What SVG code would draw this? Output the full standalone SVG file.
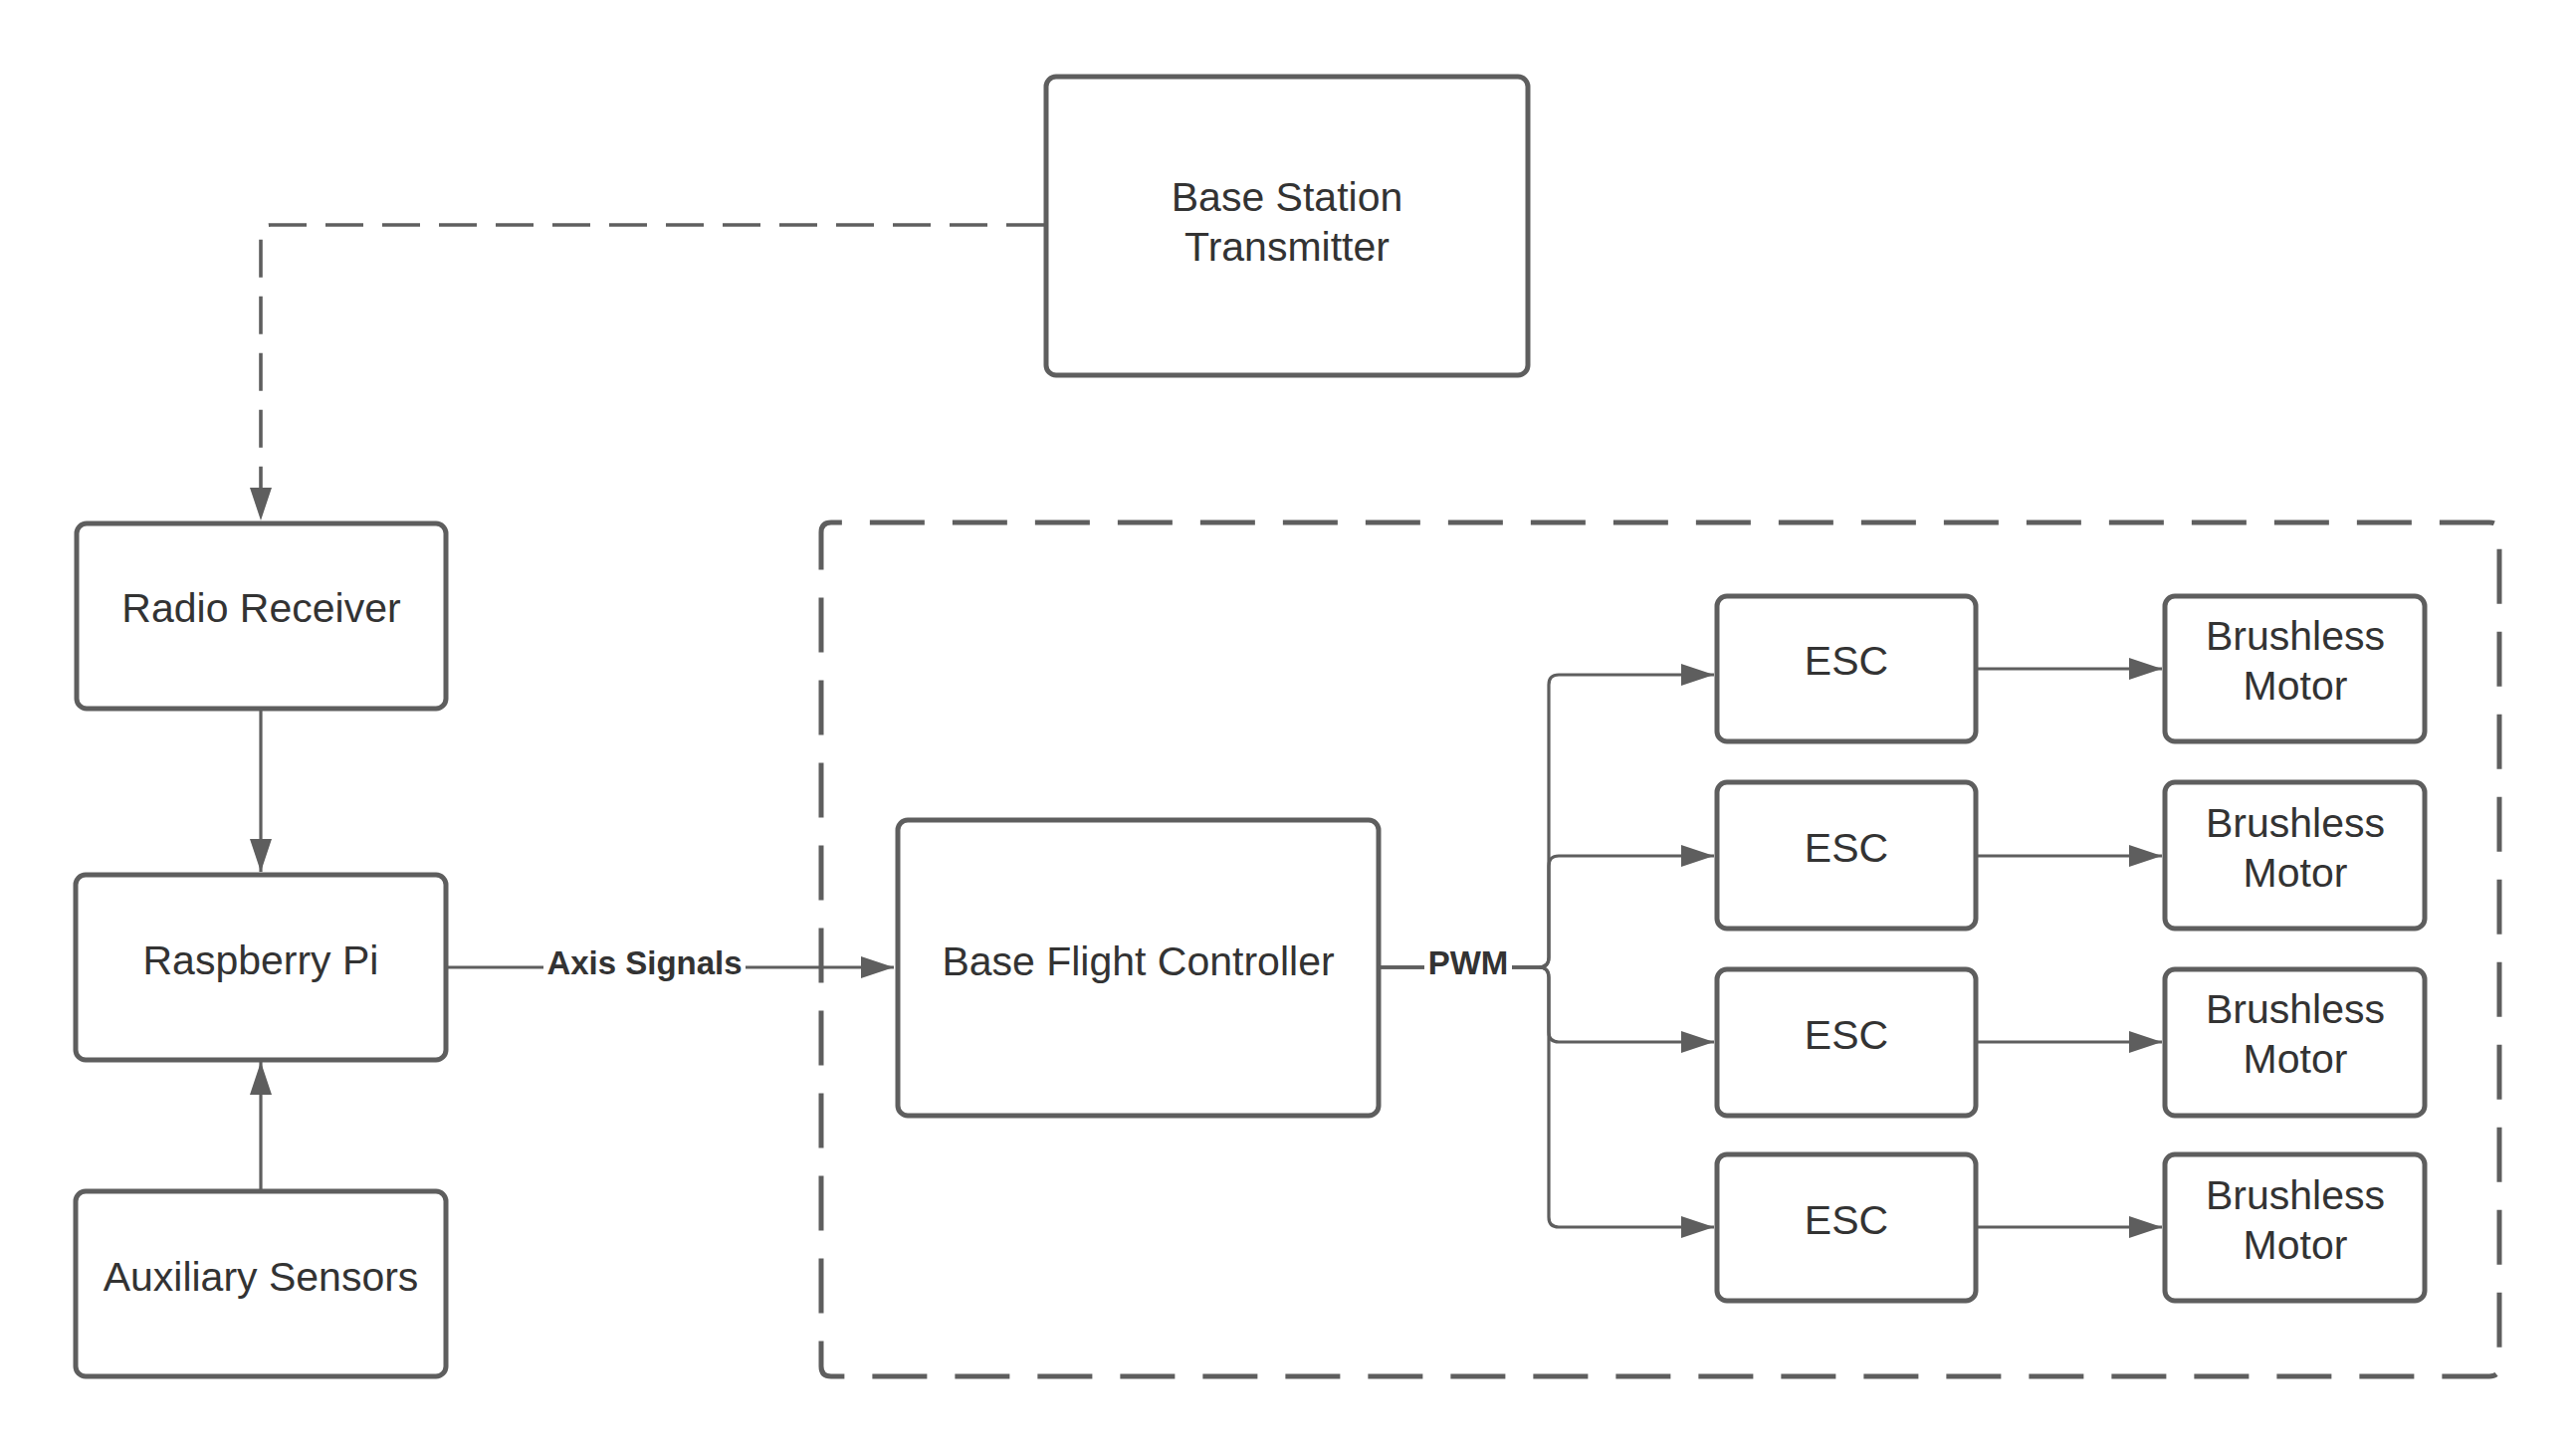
<svg xmlns="http://www.w3.org/2000/svg" width="2588" height="1461" viewBox="0 0 2588 1461">
<defs>
<style>
.box{fill:#ffffff;stroke:#5e5e5e;stroke-width:5}
.lbl{font-family:"Liberation Sans",Arial,sans-serif;font-size:41px;fill:#333333;text-anchor:middle}
.elbl{font-family:"Liberation Sans",Arial,sans-serif;font-size:33px;font-weight:bold;fill:#333333;text-anchor:middle}
.con{fill:none;stroke:#5e5e5e;stroke-width:3.2}
.dash{stroke-dasharray:38 19;stroke-width:3.6}
.cont{fill:none;stroke:#5e5e5e;stroke-width:5;stroke-dasharray:55 28}
</style>
<marker id="arr" markerUnits="userSpaceOnUse" markerWidth="34" markerHeight="24" refX="33" refY="11" orient="auto">
<path d="M0,0 L33,11 L0,22 Z" fill="#5e5e5e"/>
</marker>
</defs>
<rect width="2588" height="1461" fill="#ffffff"/>

<g id="container">
<path class="cont" d="M825,563 V535 Q825,525 835,525 H2501 Q2511,525 2511,535 V1373 Q2511,1383 2501,1383 H835 Q825,1383 825,1373 Z"/>
</g>

<g id="connectors">
<path class="con dash" d="M1049,226 H272 Q262,226 262,236 V523" marker-end="url(#arr)"/>
<path class="con" d="M262,714 V876" marker-end="url(#arr)"/>
<path class="con" d="M262,1195 V1067" marker-end="url(#arr)"/>
<path class="con" d="M450,972 H898" marker-end="url(#arr)"/>
<rect x="546" y="954" width="203" height="34" fill="#ffffff"/>
<text class="elbl" x="647.5" y="979">Axis Signals</text>
<path class="con" d="M1387,972 H1546 Q1556,972 1556,962 V688 Q1556,678 1566,678 H1722" marker-end="url(#arr)"/>
<path class="con" d="M1387,972 H1546 Q1556,972 1556,962 V870 Q1556,860 1566,860 H1722" marker-end="url(#arr)"/>
<path class="con" d="M1387,972 H1546 Q1556,972 1556,982 V1037 Q1556,1047 1566,1047 H1722" marker-end="url(#arr)"/>
<path class="con" d="M1387,972 H1546 Q1556,972 1556,982 V1223 Q1556,1233 1566,1233 H1722" marker-end="url(#arr)"/>
<rect x="1431" y="954" width="88" height="34" fill="#ffffff"/>
<text class="elbl" x="1475" y="979">PWM</text>
<path class="con" d="M1987,672 H2172" marker-end="url(#arr)"/>
<path class="con" d="M1987,860 H2172" marker-end="url(#arr)"/>
<path class="con" d="M1987,1047 H2172" marker-end="url(#arr)"/>
<path class="con" d="M1987,1233 H2172" marker-end="url(#arr)"/>
</g>

<g id="base-station">
<rect class="box" x="1051" y="77" width="484" height="300" rx="10"/>
<text class="lbl" x="1293" y="212">Base Station</text>
<text class="lbl" x="1293" y="262">Transmitter</text>
</g>
<g id="radio-receiver">
<rect class="box" x="77" y="526" width="371" height="186" rx="10"/>
<text class="lbl" x="262.5" y="625">Radio Receiver</text>
</g>
<g id="raspberry-pi">
<rect class="box" x="76" y="879" width="372" height="186" rx="10"/>
<text class="lbl" x="262" y="979">Raspberry Pi</text>
</g>
<g id="auxiliary-sensors">
<rect class="box" x="76" y="1197" width="372" height="186" rx="10"/>
<text class="lbl" x="262" y="1297">Auxiliary Sensors</text>
</g>
<g id="base-flight-controller">
<rect class="box" x="902" y="824" width="483" height="297" rx="10"/>
<text class="lbl" x="1143.5" y="980">Base Flight Controller</text>
</g>

<g id="esc-1">
<rect class="box" x="1725" y="599" width="260" height="146" rx="10"/>
<text class="lbl" x="1855" y="678">ESC</text>
</g>
<g id="esc-2">
<rect class="box" x="1725" y="786" width="260" height="147" rx="10"/>
<text class="lbl" x="1855" y="866">ESC</text>
</g>
<g id="esc-3">
<rect class="box" x="1725" y="974" width="260" height="147" rx="10"/>
<text class="lbl" x="1855" y="1054">ESC</text>
</g>
<g id="esc-4">
<rect class="box" x="1725" y="1160" width="260" height="147" rx="10"/>
<text class="lbl" x="1855" y="1240">ESC</text>
</g>

<g id="motor-1">
<rect class="box" x="2175" y="599" width="261" height="146" rx="10"/>
<text class="lbl" x="2306" y="653">Brushless</text>
<text class="lbl" x="2306" y="703">Motor</text>
</g>
<g id="motor-2">
<rect class="box" x="2175" y="786" width="261" height="147" rx="10"/>
<text class="lbl" x="2306" y="841">Brushless</text>
<text class="lbl" x="2306" y="891">Motor</text>
</g>
<g id="motor-3">
<rect class="box" x="2175" y="974" width="261" height="147" rx="10"/>
<text class="lbl" x="2306" y="1028">Brushless</text>
<text class="lbl" x="2306" y="1078">Motor</text>
</g>
<g id="motor-4">
<rect class="box" x="2175" y="1160" width="261" height="147" rx="10"/>
<text class="lbl" x="2306" y="1215">Brushless</text>
<text class="lbl" x="2306" y="1265">Motor</text>
</g>
</svg>
